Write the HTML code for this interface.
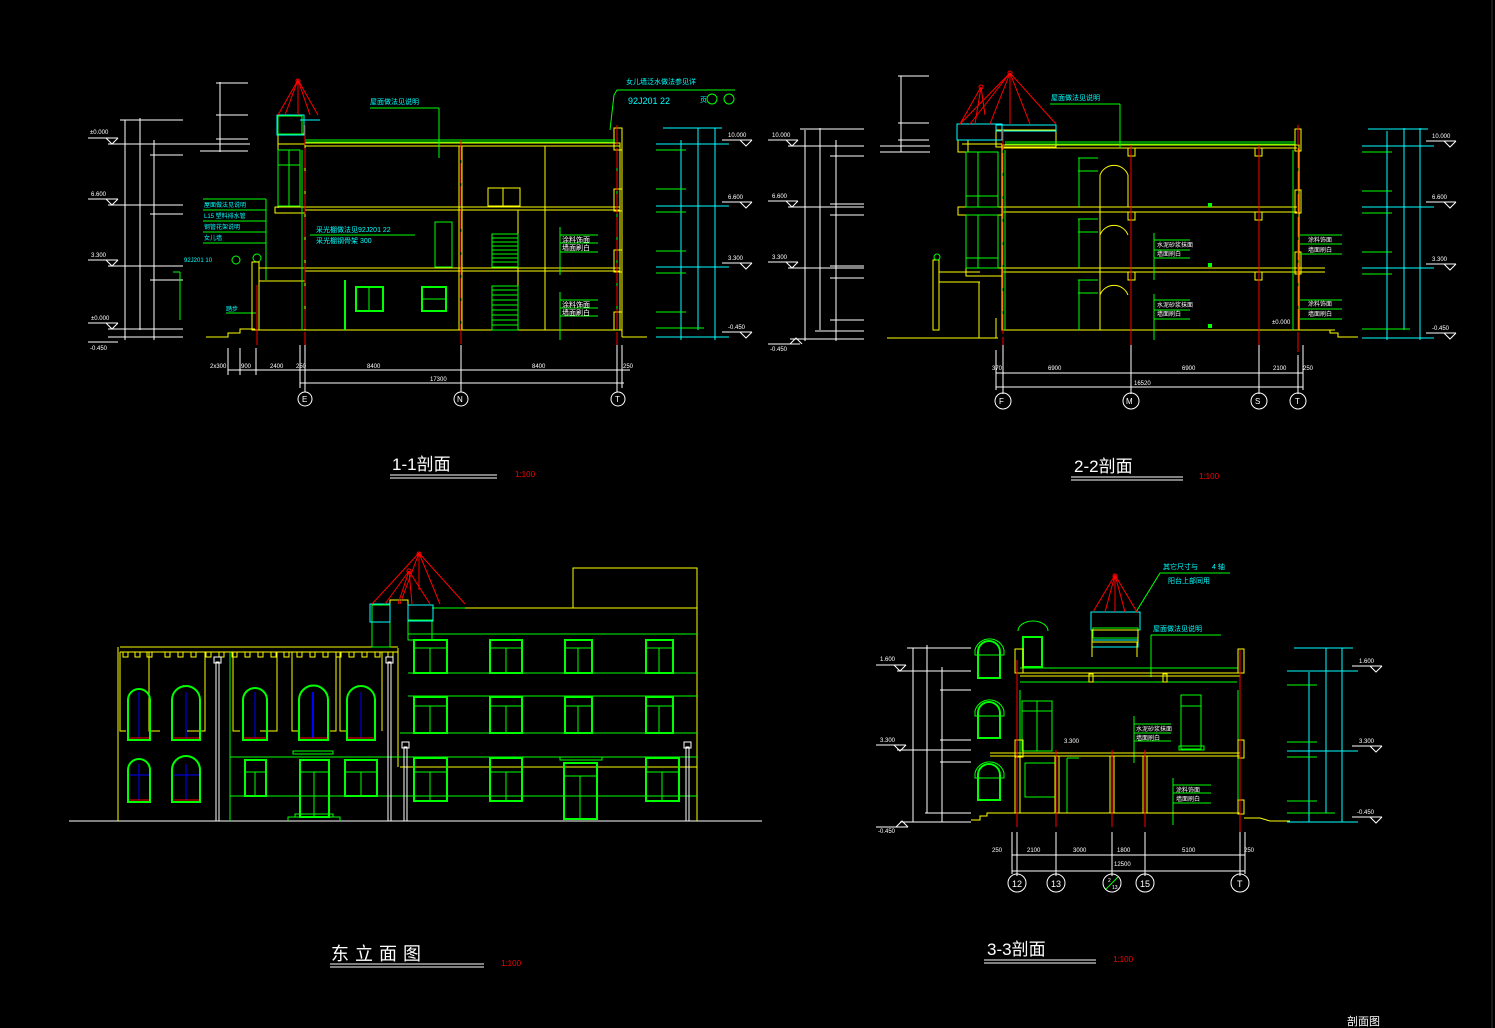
<!DOCTYPE html>
<html><head><meta charset="utf-8"><style>
html,body{margin:0;padding:0;background:#000;}
svg{display:block}
text{font-family:"Liberation Sans","Noto Sans CJK SC",sans-serif;}
</style></head><body>
<svg width="1495" height="1028" viewBox="0 0 1495 1028" xmlns="http://www.w3.org/2000/svg">
<rect width="1495" height="1028" fill="#000"/>
<defs>
<g id="lv"><line x1="0" y1="0" x2="30" y2="0" stroke="#fff"/><path d="M18 0 L24 6 L30 0" fill="none" stroke="#fff"/></g>
</defs>

<!-- ================= 1-1 SECTION ================= -->
<g fill="none" stroke-width="1">
<!-- left dims -->
<g stroke="#fff">
<line x1="125" y1="120" x2="125" y2="340"/><line x1="140" y1="118" x2="140" y2="330"/><line x1="154" y1="140" x2="154" y2="340"/>
<line x1="120" y1="120" x2="183" y2="120"/><line x1="108" y1="144" x2="250" y2="144"/><line x1="150" y1="155" x2="183" y2="155"/>
<line x1="108" y1="205" x2="183" y2="205"/><line x1="150" y1="214" x2="183" y2="214"/>
<line x1="108" y1="266" x2="183" y2="266"/><line x1="150" y1="280" x2="183" y2="280"/>
<line x1="108" y1="329" x2="183" y2="329"/><line x1="108" y1="337" x2="183" y2="337"/>
<line x1="220" y1="82" x2="220" y2="152"/><line x1="216" y1="83" x2="248" y2="83"/><line x1="216" y1="115" x2="248" y2="115"/><line x1="216" y1="139" x2="248" y2="139"/><line x1="200" y1="151" x2="248" y2="151"/>
<use href="#lv" x="88" y="138"/><use href="#lv" x="88" y="199"/><use href="#lv" x="88" y="260"/><use href="#lv" x="88" y="323"/>
<line x1="88" y1="342" x2="118" y2="342"/>
</g>
<g fill="#fff" font-size="6" stroke="none">
<text x="90" y="134">±0.000</text><text x="91" y="196">6.600</text><text x="91" y="257">3.300</text><text x="91" y="320">±0.000</text><text x="90" y="350">-0.450</text>
</g>
<!-- annotation green left -->
<g stroke="#0f0"><line x1="203" y1="199" x2="266" y2="199"/><line x1="203" y1="210" x2="266" y2="210"/><line x1="203" y1="221" x2="266" y2="221"/><line x1="203" y1="232" x2="266" y2="232"/><line x1="203" y1="243" x2="266" y2="243"/><line x1="266" y1="199" x2="266" y2="280"/><line x1="173" y1="272" x2="180" y2="272"/><line x1="180" y1="272" x2="180" y2="320"/><line x1="226" y1="313" x2="256" y2="313"/><circle cx="257" cy="258" r="4"/><circle cx="236" cy="260" r="4"/></g>
<g fill="#0ff" font-size="6" stroke="none"><text x="204" y="207">屋面做法见说明</text><text x="204" y="218">L15 塑料排水管</text><text x="204" y="229">钢管花架说明</text><text x="204" y="240">女儿墙</text><text x="184" y="262">92J201 10</text><text x="226" y="311">踏步</text></g>

<!-- building -->
<g stroke="#ff0">
<rect x="305" y="143" width="315" height="187"/>
<line x1="305" y1="146" x2="620" y2="146"/>
<line x1="305" y1="207" x2="620" y2="207"/><line x1="305" y1="210" x2="620" y2="210"/>
<line x1="305" y1="268" x2="620" y2="268"/><line x1="305" y1="271" x2="620" y2="271"/>
<line x1="459" y1="146" x2="459" y2="330"/><line x1="462" y1="146" x2="462" y2="330"/>
<line x1="545" y1="146" x2="545" y2="330"/>
<rect x="614" y="128" width="8" height="22"/><rect x="614" y="189" width="8" height="22"/><rect x="614" y="250" width="8" height="22"/><rect x="614" y="312" width="8" height="18"/>
<line x1="622" y1="337" x2="647" y2="337"/><line x1="622" y1="150" x2="622" y2="337"/>
<rect x="278" y="134" width="27" height="10"/><line x1="278" y1="144" x2="278" y2="208"/>
<rect x="275" y="207" width="30" height="6"/>
<line x1="255" y1="330" x2="622" y2="330"/>
<path d="M206 337 L228 337 L228 333 L240 333 L240 329 L255 329"/>
<rect x="252" y="262" width="7" height="68"/><line x1="259" y1="268" x2="305" y2="268"/><line x1="259" y1="281" x2="305" y2="281"/>
<rect x="488" y="188" width="32" height="18"/><line x1="503" y1="188" x2="503" y2="206"/>
<line x1="518" y1="210" x2="518" y2="330"/>
</g>
<g stroke="#0f0">
<rect x="278" y="116" width="24" height="18"/>
<line x1="305" y1="140" x2="615" y2="140"/><line x1="305" y1="142" x2="615" y2="142"/>
<rect x="278" y="150" width="22" height="56"/><line x1="289" y1="150" x2="289" y2="206"/><line x1="278" y1="165" x2="300" y2="165"/>
<rect x="356" y="287" width="27" height="24" stroke-width="2"/><line x1="369" y1="287" x2="369" y2="311"/>
<rect x="422" y="287" width="24" height="24" stroke-width="2"/><line x1="422" y1="299" x2="446" y2="299"/>
<line x1="345" y1="280" x2="345" y2="330" stroke-width="2"/>
<rect x="435" y="222" width="17" height="45"/>
<path d="M492 234 L518 234 L518 267 L492 267 Z"/><line x1="492" y1="238" x2="518" y2="238"/><line x1="492" y1="242" x2="518" y2="242"/><line x1="492" y1="246" x2="518" y2="246"/><line x1="492" y1="250" x2="518" y2="250"/><line x1="492" y1="254" x2="518" y2="254"/><line x1="492" y1="258" x2="518" y2="258"/><line x1="492" y1="262" x2="518" y2="262"/>
<path d="M492 286 L518 286 L518 330 L492 330 Z"/><line x1="492" y1="290" x2="518" y2="290"/><line x1="492" y1="295" x2="518" y2="295"/><line x1="492" y1="300" x2="518" y2="300"/><line x1="492" y1="305" x2="518" y2="305"/><line x1="492" y1="310" x2="518" y2="310"/><line x1="492" y1="315" x2="518" y2="315"/><line x1="492" y1="320" x2="518" y2="320"/><line x1="492" y1="325" x2="518" y2="325"/>
<line x1="617" y1="150" x2="617" y2="330"/><line x1="302" y1="150" x2="302" y2="330"/>
<line x1="560" y1="227" x2="560" y2="275"/><line x1="560" y1="235" x2="598" y2="235"/><line x1="560" y1="243" x2="598" y2="243"/><line x1="560" y1="252" x2="598" y2="252"/>
<line x1="560" y1="292" x2="560" y2="340"/><line x1="560" y1="300" x2="598" y2="300"/><line x1="560" y1="308" x2="598" y2="308"/><line x1="560" y1="316" x2="598" y2="316"/>
<line x1="310" y1="235" x2="415" y2="235"/><line x1="370" y1="108" x2="439" y2="108"/><line x1="439" y1="108" x2="439" y2="158"/>
<path d="M610 130 L614 95 L617 90 L735 90"/>
<circle cx="712" cy="99" r="5"/><circle cx="729" cy="99" r="5"/>
</g>
<g fill="#0ff" font-size="7" stroke="none">
<text x="370" y="104">屋面做法见说明</text><text x="626" y="84">女儿墙泛水做法参见详</text><text x="628" y="104" font-size="9">92J201 22</text><text x="700" y="102">页</text>
<text x="316" y="232">采光棚做法见</text><text x="358" y="232">92J201 22</text><text x="316" y="243">采光棚钢骨架</text><text x="360" y="243">300</text>
<text x="562" y="242" fill="#fff">涂料饰面</text><text x="562" y="250" fill="#fff">墙面刷白</text>
<text x="562" y="307" fill="#fff">涂料饰面</text><text x="562" y="315" fill="#fff">墙面刷白</text>
</g>
<rect x="277" y="115" width="27" height="20" fill="none" stroke="#0ff"/>
<line x1="300" y1="120" x2="320" y2="120" stroke="#0ff"/>
<g stroke="#f00"><line x1="298" y1="80" x2="278" y2="115"/><line x1="298" y1="80" x2="285" y2="115"/><line x1="298" y1="80" x2="298" y2="115"/><line x1="298" y1="80" x2="310" y2="115"/><line x1="298" y1="80" x2="318" y2="115"/><circle cx="298" cy="81" r="2"/>
<line x1="305" y1="125" x2="305" y2="345" stroke-dasharray="20 3"/><line x1="461" y1="140" x2="461" y2="345" stroke-dasharray="20 3"/><line x1="617" y1="125" x2="617" y2="345" stroke-dasharray="20 3"/><line x1="257" y1="285" x2="257" y2="345"/></g>
<!-- right dims 1-1 -->
<g stroke="#0ff"><line x1="681" y1="140" x2="681" y2="340"/><line x1="698" y1="128" x2="698" y2="330"/><line x1="715" y1="128" x2="715" y2="340"/>
<line x1="663" y1="128" x2="722" y2="128"/><line x1="656" y1="144" x2="729" y2="144"/><line x1="656" y1="206" x2="729" y2="206"/><line x1="656" y1="267" x2="729" y2="267"/><line x1="656" y1="337" x2="729" y2="337"/></g>
<g stroke="#0f0"><line x1="656" y1="150" x2="686" y2="150"/><line x1="656" y1="189" x2="686" y2="189"/><line x1="656" y1="212" x2="686" y2="212"/><line x1="656" y1="251" x2="686" y2="251"/><line x1="656" y1="273" x2="686" y2="273"/><line x1="656" y1="312" x2="686" y2="312"/><line x1="656" y1="328" x2="704" y2="328"/></g>
<g stroke="#fff"><use href="#lv" x="722" y="140"/><use href="#lv" x="722" y="202"/><use href="#lv" x="722" y="263"/><use href="#lv" x="722" y="332"/></g>
<g fill="#fff" font-size="6"><text x="728" y="137">10.000</text><text x="728" y="199">6.600</text><text x="728" y="260">3.300</text><text x="728" y="329">-0.450</text></g>
<!-- bottom dims 1-1 -->
<g stroke="#fff"><line x1="228" y1="370" x2="630" y2="370"/><line x1="300" y1="383" x2="624" y2="383"/>
<line x1="228" y1="348" x2="228" y2="375"/><line x1="240" y1="348" x2="240" y2="375"/><line x1="256" y1="348" x2="256" y2="375"/><line x1="300" y1="345" x2="300" y2="388"/><line x1="305" y1="345" x2="305" y2="392"/><line x1="461" y1="345" x2="461" y2="392"/><line x1="617" y1="345" x2="617" y2="392"/><line x1="622" y1="345" x2="622" y2="388"/>
<circle cx="305" cy="399" r="7"/><circle cx="461" cy="399" r="7"/><circle cx="618" cy="399" r="7"/></g>
<g fill="#fff" font-size="6"><text x="210" y="368">2x300</text><text x="241" y="368">900</text><text x="270" y="368">2400</text><text x="296" y="368">250</text><text x="367" y="368">8400</text><text x="532" y="368">8400</text><text x="623" y="368">250</text><text x="430" y="381">17300</text>
<text x="302" y="402" font-size="8">E</text><text x="457" y="402" font-size="8">N</text><text x="615" y="402" font-size="8">T</text></g>
</g>
<text x="392" y="470" fill="#fff" font-size="17">1-1剖面</text>
<line x1="390" y1="475" x2="497" y2="475" stroke="#fff"/><line x1="390" y1="478" x2="497" y2="478" stroke="#fff"/>
<text x="515" y="477" fill="#f00" font-size="8">1:100</text>

<!-- ================= 2-2 SECTION ================= -->
<g fill="none" stroke-width="1">
<g stroke="#fff">
<line x1="805" y1="130" x2="805" y2="341"/><line x1="820" y1="128" x2="820" y2="330"/><line x1="836" y1="140" x2="836" y2="341"/>
<line x1="800" y1="129" x2="864" y2="129"/><line x1="788" y1="146" x2="864" y2="146"/><line x1="830" y1="156" x2="864" y2="156"/><line x1="830" y1="204" x2="864" y2="204"/><line x1="788" y1="207" x2="864" y2="207"/><line x1="830" y1="215" x2="864" y2="215"/><line x1="830" y1="266" x2="864" y2="266"/><line x1="788" y1="268" x2="864" y2="268"/><line x1="830" y1="278" x2="864" y2="278"/><line x1="830" y1="320" x2="864" y2="320"/><line x1="815" y1="331" x2="864" y2="331"/><line x1="790" y1="339" x2="864" y2="339"/>
<use href="#lv" x="768" y="140"/><use href="#lv" x="768" y="201"/><use href="#lv" x="768" y="262"/>
<line x1="768" y1="344" x2="800" y2="344"/><path d="M790 344 L796 338 L802 344"/>
<line x1="901" y1="76" x2="901" y2="152"/><line x1="898" y1="76" x2="929" y2="76"/><line x1="898" y1="123" x2="929" y2="123"/><line x1="898" y1="140" x2="929" y2="140"/><line x1="880" y1="146" x2="930" y2="146"/><line x1="880" y1="152" x2="930" y2="152"/>
</g>
<g fill="#fff" font-size="6"><text x="772" y="137">10.000</text><text x="772" y="198">6.600</text><text x="772" y="259">3.300</text><text x="770" y="351">-0.450</text></g>
<g stroke="#ff0">
<rect x="1002" y="145" width="297" height="185"/><line x1="1002" y1="148" x2="1297" y2="148"/>
<line x1="1002" y1="207" x2="1297" y2="207"/><line x1="1002" y1="212" x2="1297" y2="212"/>
<line x1="1002" y1="268" x2="1325" y2="268"/><line x1="1002" y1="272" x2="1325" y2="272"/>
<rect x="1128" y="148" width="7" height="8"/><rect x="1128" y="212" width="7" height="8"/><rect x="1128" y="272" width="7" height="8"/>
<rect x="1255" y="148" width="7" height="8"/><rect x="1255" y="212" width="7" height="8"/><rect x="1255" y="272" width="7" height="8"/>
<rect x="1295" y="129" width="6" height="22"/><rect x="1295" y="190" width="6" height="23"/><rect x="1295" y="252" width="6" height="22"/>
<rect x="996" y="130" width="60" height="17"/><line x1="962" y1="144" x2="1002" y2="144"/><rect x="958" y="140" width="10" height="12"/>
<rect x="958" y="207" width="44" height="8"/><rect x="966" y="268" width="36" height="8"/>
<path d="M1100 330 L1100 175 A15 15 0 0 1 1128 175 L1128 207"/><path d="M1100 270 L1100 235 A15 15 0 0 1 1128 235"/><path d="M1100 330 L1100 295 A15 15 0 0 1 1128 295"/>
<rect x="933" y="260" width="6" height="70"/><line x1="939" y1="272" x2="980" y2="272"/><line x1="939" y1="282" x2="980" y2="282"/><line x1="979" y1="282" x2="979" y2="338"/>
<line x1="887" y1="338" x2="998" y2="338"/><line x1="996" y1="318" x2="996" y2="338"/><line x1="1002" y1="330" x2="1335" y2="330"/><path d="M1300 330 L1330 330 L1330 333 L1338 333 L1338 337 L1358 337"/>
</g>
<g stroke="#0f0">
<line x1="1005" y1="142" x2="1295" y2="142"/><line x1="1005" y1="144" x2="1295" y2="144"/>
<rect x="966" y="152" width="32" height="55"/><line x1="978" y1="152" x2="978" y2="207"/><line x1="966" y1="196" x2="998" y2="196"/>
<rect x="966" y="215" width="32" height="53"/><line x1="978" y1="215" x2="978" y2="268"/><line x1="966" y1="258" x2="998" y2="258"/>
<line x1="1005" y1="150" x2="1005" y2="330"/><line x1="1131" y1="156" x2="1131" y2="330"/><line x1="1259" y1="156" x2="1259" y2="330"/><line x1="1293" y1="150" x2="1293" y2="330"/>
<line x1="1078" y1="158" x2="1098" y2="158"/><line x1="1078" y1="171" x2="1098" y2="171"/><line x1="1079" y1="158" x2="1079" y2="207"/>
<line x1="1078" y1="219" x2="1098" y2="219"/><line x1="1078" y1="232" x2="1098" y2="232"/><line x1="1079" y1="219" x2="1079" y2="268"/>
<line x1="1078" y1="280" x2="1098" y2="280"/><line x1="1078" y1="293" x2="1098" y2="293"/><line x1="1079" y1="280" x2="1079" y2="330"/>
<line x1="1154" y1="233" x2="1154" y2="280"/><line x1="1154" y1="240" x2="1190" y2="240"/><line x1="1154" y1="250" x2="1190" y2="250"/><line x1="1154" y1="258" x2="1190" y2="258"/>
<line x1="1154" y1="294" x2="1154" y2="340"/><line x1="1154" y1="300" x2="1190" y2="300"/><line x1="1154" y1="310" x2="1190" y2="310"/><line x1="1154" y1="319" x2="1190" y2="319"/>
<line x1="1300" y1="235" x2="1342" y2="235"/><line x1="1300" y1="244" x2="1342" y2="244"/><line x1="1300" y1="254" x2="1342" y2="254"/>
<line x1="1300" y1="300" x2="1342" y2="300"/><line x1="1300" y1="309" x2="1342" y2="309"/><line x1="1300" y1="319" x2="1342" y2="319"/>
<line x1="1050" y1="104" x2="1120" y2="104"/><line x1="1120" y1="104" x2="1120" y2="148"/>
<circle cx="937" cy="257" r="3"/>
</g>
<g fill="#0f0"><rect x="1208" y="203" width="4" height="4"/><rect x="1208" y="263" width="4" height="4"/><rect x="1208" y="324" width="4" height="4"/></g>
<g fill="#0ff" font-size="7"><text x="1051" y="100">屋面做法见说明</text></g>
<g fill="#fff" font-size="6"><text x="1157" y="247">水泥砂浆抹面</text><text x="1157" y="256">墙面刷白</text><text x="1157" y="307">水泥砂浆抹面</text><text x="1157" y="316">墙面刷白</text><text x="1308" y="242">涂料饰面</text><text x="1308" y="252">墙面刷白</text><text x="1308" y="306">涂料饰面</text><text x="1308" y="316">墙面刷白</text><text x="1272" y="324">±0.000</text></g>
<rect x="957" y="124" width="45" height="16" stroke="#0ff"/><rect x="996" y="125" width="60" height="6" stroke="#0ff"/>
<g stroke="#f00"><line x1="1010" y1="73" x2="960" y2="124"/><line x1="1010" y1="73" x2="970" y2="124"/><line x1="1010" y1="73" x2="990" y2="124"/><line x1="1010" y1="73" x2="1010" y2="124"/><line x1="1010" y1="73" x2="1030" y2="124"/><line x1="1010" y1="73" x2="1056" y2="124"/><circle cx="1010" cy="73" r="2"/>
<line x1="981" y1="87" x2="960" y2="124"/><line x1="981" y1="87" x2="975" y2="124"/><line x1="981" y1="87" x2="985" y2="115"/><circle cx="981" cy="87" r="2"/>
<line x1="1003" y1="130" x2="1003" y2="345" stroke-dasharray="20 3"/><line x1="1131" y1="145" x2="1131" y2="345"/><line x1="1259" y1="145" x2="1259" y2="345"/><line x1="1298" y1="125" x2="1298" y2="355" stroke-dasharray="20 3"/></g>
<g stroke="#0ff"><line x1="1387" y1="131" x2="1387" y2="340"/><line x1="1404" y1="128" x2="1404" y2="330"/><line x1="1420" y1="128" x2="1420" y2="340"/>
<line x1="1368" y1="129" x2="1428" y2="129"/><line x1="1362" y1="146" x2="1434" y2="146"/><line x1="1362" y1="207" x2="1434" y2="207"/><line x1="1362" y1="268" x2="1434" y2="268"/><line x1="1362" y1="338" x2="1434" y2="338"/></g>
<g stroke="#0f0"><line x1="1362" y1="152" x2="1392" y2="152"/><line x1="1362" y1="191" x2="1392" y2="191"/><line x1="1362" y1="213" x2="1392" y2="213"/><line x1="1362" y1="252" x2="1392" y2="252"/><line x1="1362" y1="274" x2="1392" y2="274"/><line x1="1362" y1="329" x2="1410" y2="329"/></g>
<g stroke="#fff"><use href="#lv" x="1426" y="141"/><use href="#lv" x="1426" y="202"/><use href="#lv" x="1426" y="264"/><use href="#lv" x="1426" y="333"/></g>
<g fill="#fff" font-size="6"><text x="1432" y="138">10.000</text><text x="1432" y="199">6.600</text><text x="1432" y="261">3.300</text><text x="1432" y="330">-0.450</text></g>
<g stroke="#fff"><line x1="996" y1="373" x2="1303" y2="373"/><line x1="996" y1="387" x2="1303" y2="387"/><line x1="996" y1="350" x2="996" y2="390"/><line x1="1003" y1="345" x2="1003" y2="394"/><line x1="1131" y1="345" x2="1131" y2="394"/><line x1="1259" y1="345" x2="1259" y2="394"/><line x1="1298" y1="355" x2="1298" y2="394"/><line x1="1303" y1="345" x2="1303" y2="390"/>
<circle cx="1003" cy="401" r="8"/><circle cx="1131" cy="401" r="8"/><circle cx="1259" cy="401" r="8"/><circle cx="1298" cy="401" r="8"/></g>
<g fill="#fff" font-size="6"><text x="992" y="370">370</text><text x="1048" y="370">6900</text><text x="1182" y="370">6900</text><text x="1273" y="370">2100</text><text x="1303" y="370">250</text><text x="1134" y="385">16520</text>
<text x="999" y="404" font-size="8">F</text><text x="1126" y="404" font-size="8">M</text><text x="1255" y="404" font-size="8">S</text><text x="1295" y="404" font-size="8">T</text></g>
</g>
<text x="1074" y="472" fill="#fff" font-size="17">2-2剖面</text>
<line x1="1071" y1="477" x2="1183" y2="477" stroke="#fff"/><line x1="1071" y1="480" x2="1183" y2="480" stroke="#fff"/>
<text x="1199" y="479" fill="#f00" font-size="8">1:100</text>

<!-- ================= EAST ELEVATION ================= -->
<g fill="none" stroke-width="1">
<line x1="69" y1="821" x2="762" y2="821" stroke="#fff"/>
<g stroke="#ff0">
<line x1="118" y1="647" x2="118" y2="821"/><line x1="120" y1="647" x2="398" y2="647"/><line x1="120" y1="652" x2="398" y2="652"/>
<rect x="573" y="568" width="124" height="40"/><line x1="435" y1="608" x2="697" y2="608"/><line x1="697" y1="608" x2="697" y2="821"/>
<line x1="398" y1="648" x2="398" y2="767"/><line x1="400" y1="767" x2="697" y2="767"/>
<path d="M390 647 L390 600 L408 600 L408 620"/>
<path d="M120 652 L120 731 L126 731 M149 652 L149 731 L160 731 M205 652 L205 731 L187 731 M233 652 L233 731 L240 731 M277 652 L277 731 L260 731 M292 652 L292 731 L300 731 M336 652 L336 731 L330 731 M340 652 L340 731 L346 731 M382 652 L382 731"/>
</g>
<g stroke="#ff0">
<path d="M123 652 v5 h5 v-5 M135 652 v5 h5 v-5 M147 652 v5 h5 v-5 M165 652 v5 h5 v-5 M178 652 v5 h5 v-5 M191 652 v5 h5 v-5 M206 652 v5 h5 v-5 M219 652 v5 h5 v-5 M232 652 v5 h5 v-5 M245 652 v5 h5 v-5 M258 652 v5 h5 v-5 M271 652 v5 h5 v-5 M284 652 v5 h5 v-5 M297 652 v5 h5 v-5 M310 652 v5 h5 v-5 M323 652 v5 h5 v-5 M336 652 v5 h5 v-5 M349 652 v5 h5 v-5 M362 652 v5 h5 v-5 M375 652 v5 h5 v-5 M388 652 v5 h5 v-5"/>
</g>
<g stroke="#0f0">
<line x1="408" y1="634" x2="697" y2="634"/><line x1="408" y1="673" x2="697" y2="673"/><line x1="408" y1="696" x2="697" y2="696"/><line x1="400" y1="733" x2="697" y2="733"/>
<line x1="230" y1="757" x2="697" y2="757"/><line x1="230" y1="796" x2="697" y2="796"/><line x1="230" y1="652" x2="230" y2="821"/>
</g>
<!-- arched windows -->
<g stroke="#0f0" stroke-width="2">
<path d="M128 740 L128 700 A11 11 0 0 1 150 700 L150 740 Z"/><path d="M172 740 L172 700 A14 14 0 0 1 200 700 L200 740 Z"/><path d="M243 740 L243 700 A12 12 0 0 1 267 700 L267 740 Z"/><path d="M299 740 L299 700 A14 14 0 0 1 328 700 L328 740 Z"/><path d="M347 740 L347 700 A14 14 0 0 1 375 700 L375 740 Z"/>
<path d="M128 802 L128 770 A11 11 0 0 1 150 770 L150 802 Z"/><path d="M172 802 L172 770 A14 14 0 0 1 200 770 L200 802 Z"/>
</g>
<g stroke="#00f" stroke-width="1"><line x1="139" y1="692" x2="139" y2="738"/><line x1="186" y1="692" x2="186" y2="738"/><line x1="255" y1="692" x2="255" y2="738"/><line x1="313" y1="692" x2="313" y2="738" stroke-width="2"/><line x1="361" y1="692" x2="361" y2="738"/><line x1="139" y1="764" x2="139" y2="800"/><line x1="186" y1="764" x2="186" y2="800"/><line x1="129" y1="775" x2="149" y2="775"/><line x1="173" y1="775" x2="199" y2="775"/></g>
<g stroke="#f00"><line x1="129" y1="738" x2="149" y2="738"/><line x1="173" y1="738" x2="199" y2="738"/><line x1="244" y1="738" x2="266" y2="738"/><line x1="300" y1="738" x2="327" y2="738"/><line x1="348" y1="738" x2="374" y2="738"/><line x1="129" y1="800" x2="149" y2="800"/><line x1="173" y1="800" x2="199" y2="800"/></g>
<!-- rect windows right -->
<g stroke="#0f0" stroke-width="2">
<rect x="414" y="640" width="33" height="33"/><rect x="490" y="640" width="32" height="33"/><rect x="565" y="640" width="27" height="33"/><rect x="646" y="640" width="27" height="33"/>
<rect x="414" y="697" width="33" height="36"/><rect x="490" y="697" width="32" height="36"/><rect x="565" y="697" width="27" height="36"/><rect x="646" y="697" width="27" height="36"/>
<rect x="414" y="758" width="33" height="43"/><rect x="490" y="758" width="32" height="43"/><rect x="646" y="758" width="33" height="43"/>
<rect x="564" y="763" width="33" height="56"/>
<rect x="245" y="760" width="21" height="36"/><rect x="300" y="760" width="29" height="57"/><rect x="345" y="760" width="32" height="36"/>
</g>
<g stroke="#0f0"><line x1="414" y1="648" x2="447" y2="648"/><line x1="490" y1="648" x2="522" y2="648"/><line x1="565" y1="648" x2="592" y2="648"/><line x1="646" y1="648" x2="673" y2="648"/>
<line x1="414" y1="706" x2="447" y2="706"/><line x1="490" y1="706" x2="522" y2="706"/><line x1="565" y1="706" x2="592" y2="706"/><line x1="646" y1="706" x2="673" y2="706"/>
<line x1="414" y1="772" x2="447" y2="772"/><line x1="490" y1="772" x2="522" y2="772"/><line x1="646" y1="772" x2="679" y2="772"/><line x1="564" y1="776" x2="597" y2="776"/><line x1="300" y1="772" x2="329" y2="772"/><line x1="345" y1="772" x2="377" y2="772"/><line x1="245" y1="772" x2="266" y2="772"/>
<line x1="430" y1="648" x2="430" y2="673"/><line x1="506" y1="648" x2="506" y2="673"/><line x1="578" y1="648" x2="578" y2="673"/><line x1="659" y1="648" x2="659" y2="673"/><line x1="430" y1="706" x2="430" y2="733"/><line x1="506" y1="706" x2="506" y2="733"/><line x1="578" y1="706" x2="578" y2="733"/><line x1="659" y1="706" x2="659" y2="733"/><line x1="430" y1="772" x2="430" y2="801"/><line x1="506" y1="772" x2="506" y2="801"/><line x1="662" y1="772" x2="662" y2="801"/><line x1="580" y1="776" x2="580" y2="819"/><line x1="314" y1="772" x2="314" y2="817"/><line x1="361" y1="772" x2="361" y2="796"/><line x1="255" y1="772" x2="255" y2="796"/>
<rect x="293" y="751" width="40" height="3"/><rect x="560" y="757" width="42" height="3"/>
<path d="M295 817 L295 814 L333 814 L333 817 M288 821 L288 817 L340 817 L340 821"/>
<rect x="372" y="605" width="18" height="42"/><rect x="408" y="620" width="24" height="20"/><line x1="432" y1="608" x2="465" y2="608"/>
</g>
<rect x="370" y="604" width="20" height="18" stroke="#0ff"/><rect x="408" y="605" width="25" height="16" stroke="#0ff"/>
<g stroke="#f00"><line x1="419" y1="553" x2="372" y2="604"/><line x1="419" y1="553" x2="400" y2="604"/><line x1="419" y1="553" x2="419" y2="590"/><line x1="419" y1="553" x2="440" y2="604"/><line x1="419" y1="553" x2="465" y2="604"/><circle cx="419" cy="554" r="2"/>
<line x1="409" y1="571" x2="385" y2="604"/><line x1="409" y1="571" x2="398" y2="604"/><line x1="409" y1="571" x2="412" y2="604"/><line x1="409" y1="571" x2="430" y2="604"/><circle cx="409" cy="571" r="2"/></g>
<!-- lamps -->
<g stroke="#fff"><rect x="216" y="662" width="3" height="159"/><rect x="214" y="657" width="7" height="6"/><rect x="388" y="662" width="3" height="159"/><rect x="386" y="657" width="7" height="6"/><rect x="404" y="747" width="3" height="74"/><rect x="402" y="742" width="7" height="6"/><rect x="686" y="747" width="3" height="74"/><rect x="684" y="742" width="7" height="6"/></g>
</g>
<text x="331" y="960" fill="#fff" font-size="18" letter-spacing="6">东立面图</text>
<line x1="330" y1="964" x2="484" y2="964" stroke="#fff"/><line x1="330" y1="967" x2="484" y2="967" stroke="#fff"/>
<text x="501" y="966" fill="#f00" font-size="8">1:100</text>

<!-- ================= 3-3 SECTION ================= -->
<g fill="none" stroke-width="1">
<g stroke="#fff">
<line x1="913" y1="648" x2="913" y2="822"/><line x1="927" y1="645" x2="927" y2="813"/><line x1="942" y1="667" x2="942" y2="822"/>
<line x1="907" y1="648" x2="971" y2="648"/><line x1="897" y1="671" x2="971" y2="671"/><line x1="940" y1="690" x2="971" y2="690"/><line x1="897" y1="750" x2="971" y2="750"/><line x1="940" y1="740" x2="971" y2="740"/><line x1="940" y1="762" x2="971" y2="762"/><line x1="925" y1="813" x2="971" y2="813"/><line x1="900" y1="822" x2="971" y2="822"/>
<use href="#lv" x="876" y="665"/><use href="#lv" x="876" y="745"/>
<line x1="876" y1="827" x2="908" y2="827"/><path d="M896 827 L902 821 L908 827"/>
</g>
<g fill="#fff" font-size="6"><text x="880" y="661">1.600</text><text x="880" y="742">3.300</text><text x="878" y="833">-0.450</text></g>
<g stroke="#0f0" stroke-width="2">
<path d="M978 678 L978 652 A11 11 0 0 1 1000 652 L1000 678 Z"/><path d="M978 738 L978 713 A11 11 0 0 1 1000 713 L1000 738 Z"/><path d="M978 800 L978 775 A11 11 0 0 1 1000 775 L1000 800 Z"/>
<rect x="1023" y="637" width="19" height="30"/>
</g>
<g stroke="#0f0"><path d="M975 650 A15 15 0 0 1 1004 650 L1004 655 L975 655 Z"/><path d="M975 711 A15 15 0 0 1 1004 711 L1004 716 L975 716 Z"/><path d="M975 773 A15 15 0 0 1 1004 773 L1004 778 L975 778 Z"/><path d="M1018 631 A15 10 0 0 1 1048 631"/>
<line x1="1020" y1="668" x2="1238" y2="668"/><line x1="1020" y1="682" x2="1237" y2="682"/>
<rect x="1022" y="701" width="30" height="50"/><line x1="1022" y1="711" x2="1052" y2="711"/><line x1="1037" y1="701" x2="1037" y2="751"/>
<rect x="1181" y="695" width="20" height="54"/><line x1="1181" y1="706" x2="1201" y2="706"/><rect x="1179" y="746" width="25" height="4"/>
<rect x="1025" y="763" width="30" height="34"/><line x1="1067" y1="758" x2="1067" y2="813"/><line x1="1067" y1="758" x2="1079" y2="758"/>
<line x1="1134" y1="716" x2="1134" y2="763"/><line x1="1134" y1="724" x2="1171" y2="724"/><line x1="1134" y1="733" x2="1171" y2="733"/><line x1="1134" y1="741" x2="1171" y2="741"/>
<line x1="1173" y1="778" x2="1173" y2="825"/><line x1="1173" y1="785" x2="1211" y2="785"/><line x1="1173" y1="793" x2="1211" y2="793"/><line x1="1173" y1="803" x2="1211" y2="803"/>
<line x1="1151" y1="635" x2="1221" y2="635"/><line x1="1151" y1="635" x2="1151" y2="677"/>
<path d="M1136 612 L1160 573 L1230 573"/>
<line x1="1020" y1="690" x2="1020" y2="813"/><line x1="1238" y1="690" x2="1238" y2="813"/>
<rect x="1093" y="628" width="45" height="10"/>
</g>
<rect x="1091" y="612" width="49" height="18" stroke="#0ff"/><rect x="1092" y="640" width="46" height="7" stroke="#0ff"/>
<g stroke="#ff0">
<rect x="1015" y="649" width="8" height="24"/><rect x="1238" y="649" width="6" height="24"/>
<line x1="1020" y1="673" x2="1240" y2="673"/><line x1="1020" y1="676" x2="1240" y2="676"/>
<rect x="1089" y="674" width="4" height="8"/><rect x="1163" y="674" width="4" height="8"/>
<rect x="1092" y="630" width="46" height="12"/><line x1="1092" y1="642" x2="1092" y2="657"/><line x1="1137" y1="642" x2="1137" y2="657"/>
<line x1="990" y1="753" x2="1240" y2="753"/><line x1="990" y1="756" x2="1240" y2="756"/>
<rect x="1015" y="740" width="8" height="17"/><rect x="1238" y="740" width="6" height="18"/>
<rect x="1055" y="756" width="4" height="57"/><rect x="1110" y="756" width="4" height="57"/><rect x="1143" y="756" width="4" height="57"/>
<line x1="1020" y1="813" x2="1240" y2="813"/><rect x="1015" y="756" width="5" height="57"/><rect x="1238" y="800" width="6" height="14"/>
<path d="M971 820 L980 820 L980 816 L987 816 L987 813 L1017 813"/><path d="M1244 818 L1260 818 L1270 821 L1290 821"/>
</g>
<g fill="#0ff" font-size="7"><text x="1163" y="569">其它尺寸与</text><text x="1212" y="569">4 轴</text><text x="1168" y="583">阳台上部同用</text><text x="1153" y="631">屋面做法见说明</text></g>
<g fill="#fff" font-size="6"><text x="1136" y="731">水泥砂浆抹面</text><text x="1136" y="740">墙面刷白</text><text x="1176" y="792">涂料饰面</text><text x="1176" y="801">墙面刷白</text><text x="1064" y="743">3.300</text></g>
<g stroke="#f00"><line x1="1115" y1="575" x2="1093" y2="612"/><line x1="1115" y1="575" x2="1105" y2="612"/><line x1="1115" y1="575" x2="1115" y2="612"/><line x1="1115" y1="575" x2="1125" y2="612"/><line x1="1115" y1="575" x2="1137" y2="612"/><circle cx="1115" cy="576" r="2"/>
<line x1="1017" y1="660" x2="1017" y2="827"/><line x1="1056" y1="750" x2="1056" y2="827"/><line x1="1112" y1="750" x2="1112" y2="827"/><line x1="1145" y1="750" x2="1145" y2="827"/><line x1="1240" y1="650" x2="1240" y2="840"/></g>
<g stroke="#fff"><line x1="1012" y1="855" x2="1245" y2="855"/><line x1="1012" y1="871" x2="1245" y2="871"/>
<line x1="1012" y1="832" x2="1012" y2="874"/><line x1="1017" y1="832" x2="1017" y2="876"/><line x1="1056" y1="832" x2="1056" y2="876"/><line x1="1112" y1="832" x2="1112" y2="876"/><line x1="1145" y1="832" x2="1145" y2="876"/><line x1="1240" y1="832" x2="1240" y2="876"/><line x1="1245" y1="832" x2="1245" y2="874"/>
<circle cx="1017" cy="883" r="9"/><circle cx="1056" cy="883" r="9"/><circle cx="1112" cy="883" r="9"/><circle cx="1145" cy="883" r="9"/><circle cx="1240" cy="883" r="9"/></g>
<line x1="1106" y1="889" x2="1118" y2="877" stroke="#0f0"/>
<g fill="#fff" font-size="6"><text x="992" y="852">250</text><text x="1027" y="852">2100</text><text x="1073" y="852">3000</text><text x="1117" y="852">1800</text><text x="1182" y="852">5100</text><text x="1244" y="852">250</text><text x="1114" y="866">12500</text>
<text x="1012" y="887" font-size="9">12</text><text x="1051" y="887" font-size="9">13</text><text x="1108" y="882" font-size="5">2</text><text x="1112" y="889" font-size="5">13</text><text x="1140" y="887" font-size="9">15</text><text x="1237" y="887" font-size="9">T</text></g>
<g stroke="#0ff"><line x1="1309" y1="672" x2="1309" y2="822"/><line x1="1326" y1="648" x2="1326" y2="813"/><line x1="1342" y1="648" x2="1342" y2="822"/>
<line x1="1294" y1="648" x2="1353" y2="648"/><line x1="1287" y1="671" x2="1358" y2="671"/><line x1="1287" y1="751" x2="1358" y2="751"/><line x1="1287" y1="822" x2="1358" y2="822"/></g>
<g stroke="#0f0"><line x1="1287" y1="685" x2="1317" y2="685"/><line x1="1287" y1="742" x2="1317" y2="742"/><line x1="1287" y1="757" x2="1317" y2="757"/><line x1="1287" y1="801" x2="1317" y2="801"/><line x1="1287" y1="813" x2="1335" y2="813"/></g>
<g stroke="#fff"><use href="#lv" x="1352" y="666"/><use href="#lv" x="1352" y="746"/><use href="#lv" x="1352" y="817"/></g>
<g fill="#fff" font-size="6"><text x="1359" y="663">1.600</text><text x="1359" y="743">3.300</text><text x="1357" y="814">-0.450</text></g>
</g>
<text x="987" y="955" fill="#fff" font-size="17">3-3剖面</text>
<line x1="984" y1="960" x2="1096" y2="960" stroke="#fff"/><line x1="984" y1="963" x2="1096" y2="963" stroke="#fff"/>
<text x="1113" y="962" fill="#f00" font-size="8">1:100</text>

<text x="1347" y="1025" fill="#fff" font-size="11">剖面图</text>
<line x1="1492" y1="0" x2="1492" y2="1028" stroke="#333"/>
</svg>
</body></html>
